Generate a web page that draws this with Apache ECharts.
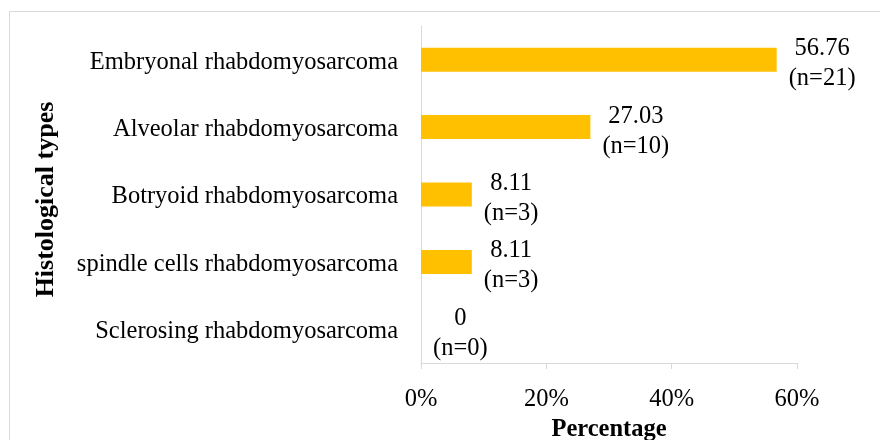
<!DOCTYPE html>
<html>
<head>
<meta charset="utf-8">
<script src="https://cdn.jsdelivr.net/npm/echarts@6/dist/echarts.min.js"></script>
<style>
  html, body { margin: 0; padding: 0; background: #fff; }
  #chart { width: 880px; height: 440px; }
</style>
</head>
<body>
<div id="chart"></div>
<script>
// Histological subtypes, share of cases (%) and case counts
const categories = [
  'Embryonal rhabdomyosarcoma',
  'Alveolar rhabdomyosarcoma',
  'Botryoid rhabdomyosarcoma',
  'spindle cells rhabdomyosarcoma',
  'Sclerosing rhabdomyosarcoma'
];
const percentages = [56.76, 27.03, 8.11, 8.11, 0];
const counts = [21, 10, 3, 3, 0];
const xTicks = { min: 0, max: 60, interval: 20 };

const FONT = '"Liberation Serif", "Times New Roman", serif';
const TEXT_SIZE = 24.5;
const chart = echarts.init(document.getElementById('chart'));

chart.setOption({
  animation: false,
  backgroundColor: '#fff',
  graphic: [{
    type: 'rect',
    shape: { x: 9.5, y: 11.5, width: 1000, height: 1000 },
    style: { fill: 'none', stroke: '#d9d9d9', lineWidth: 1 },
    silent: true
  }],
  grid: { left: 421, right: 83, top: 26, bottom: 77, outerBoundsMode: 'none', containLabel: false },
  xAxis: {
    type: 'value',
    min: xTicks.min,
    max: xTicks.max,
    interval: xTicks.interval,
    name: 'Percentage',
    nameLocation: 'middle',
    nameGap: 53,
    nameTextStyle: { fontFamily: FONT, fontSize: TEXT_SIZE, fontWeight: 'bold', color: '#000' },
    axisLine: { show: true, lineStyle: { color: '#d9d9d9', width: 1 } },
    axisTick: { show: true, length: 6, lineStyle: { color: '#d9d9d9' } },
    splitLine: { show: false },
    axisLabel: {
      formatter: '{value}%',
      margin: 24,
      fontFamily: FONT, fontSize: TEXT_SIZE, color: '#000'
    }
  },
  yAxis: {
    type: 'category',
    data: categories,
    inverse: true,
    name: 'Histological types',
    nameLocation: 'middle',
    nameGap: 362,
    nameRotate: 90,
    nameTextStyle: {
      fontFamily: FONT, fontSize: 26, fontWeight: 'bold', color: '#000',
      padding: [0, 10, 0, 0]
    },
    axisLine: { show: true, lineStyle: { color: '#d9d9d9', width: 1 } },
    axisTick: { show: false },
    axisLabel: {
      margin: 23,
      formatter: v => '{c|' + v + '}',
      rich: {
        c: { fontFamily: FONT, fontSize: TEXT_SIZE, color: '#000', padding: [5, 0, 0, 0] }
      }
    }
  },
  series: [{
    type: 'bar',
    data: percentages,
    barWidth: 24,
    itemStyle: { color: '#FFC000' },
    label: {
      show: true,
      position: 'right',
      distance: 12,
      offset: [0, 4],
      formatter: p => '{v|' + p.value + '}\n{v|(n=' + counts[p.dataIndex] + ')}',
      rich: {
        v: { fontFamily: FONT, fontSize: TEXT_SIZE, color: '#000', align: 'center', lineHeight: 30 }
      }
    }
  }]
});
</script>
</body>
</html>
